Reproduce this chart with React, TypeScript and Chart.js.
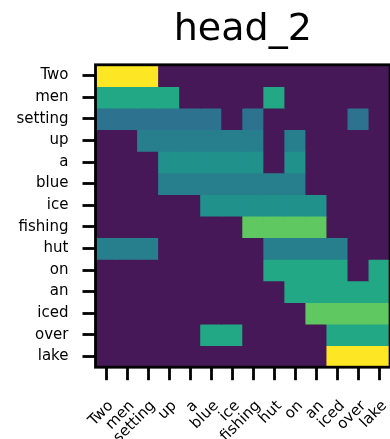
import { useEffect, useRef } from "react";
import { Chart, registerables } from "chart.js";

Chart.register(...registerables);
Chart.defaults.font.family = "'DejaVu Sans'";

// tokens (rows = queries, columns = keys)
const tokens = ["Two", "men", "setting", "up", "a", "blue", "ice", "fishing", "hut", "on", "an", "iced", "over", "lake"];

// attention weights, one row per query token
const attention: number[][] = [
  [0.333, 0.333, 0.333, 0, 0, 0, 0, 0, 0, 0, 0, 0, 0, 0],
  [0.2, 0.2, 0.2, 0.2, 0, 0, 0, 0, 0.2, 0, 0, 0, 0, 0],
  [0.125, 0.125, 0.125, 0.125, 0.125, 0.125, 0, 0.125, 0, 0, 0, 0, 0.125, 0],
  [0, 0, 0.143, 0.143, 0.143, 0.143, 0.143, 0.143, 0, 0.143, 0, 0, 0, 0],
  [0, 0, 0, 0.167, 0.167, 0.167, 0.167, 0.167, 0, 0.167, 0, 0, 0, 0],
  [0, 0, 0, 0.143, 0.143, 0.143, 0.143, 0.143, 0.143, 0.143, 0, 0, 0, 0],
  [0, 0, 0, 0, 0, 0.167, 0.167, 0.167, 0.167, 0.167, 0.167, 0, 0, 0],
  [0, 0, 0, 0, 0, 0, 0, 0.25, 0.25, 0.25, 0.25, 0, 0, 0],
  [0.143, 0.143, 0.143, 0, 0, 0, 0, 0, 0.143, 0.143, 0.143, 0.143, 0, 0],
  [0, 0, 0, 0, 0, 0, 0, 0, 0.2, 0.2, 0.2, 0.2, 0, 0.2],
  [0, 0, 0, 0, 0, 0, 0, 0, 0, 0.2, 0.2, 0.2, 0.2, 0.2],
  [0, 0, 0, 0, 0, 0, 0, 0, 0, 0, 0.25, 0.25, 0.25, 0.25],
  [0, 0, 0, 0, 0, 0.2, 0.2, 0, 0, 0, 0, 0.2, 0.2, 0.2],
  [0, 0, 0, 0, 0, 0, 0, 0, 0, 0, 0, 0.333, 0.333, 0.333],
];

const titleText = "head_2";

// viridis-like colormap stops (low end matched to the reference's tone)
const viridisStops = [
  "#471858", "#482475", "#414487", "#355f8d", "#2a788e", "#21918c",
  "#22a884", "#44bf70", "#7ad151", "#bddf26", "#fde725",
];

function hexToRgb(h: string) {
  const n = parseInt(h.slice(1), 16);
  return [(n >> 16) & 255, (n >> 8) & 255, n & 255];
}

function viridis(t: number) {
  const c = Math.max(0, Math.min(1, t));
  const p = c * (viridisStops.length - 1);
  const i = Math.min(viridisStops.length - 2, Math.floor(p));
  const f = p - i;
  const a = hexToRgb(viridisStops[i]);
  const b = hexToRgb(viridisStops[i + 1]);
  const m = a.map((v, k) => Math.round(v + (b[k] - v) * f));
  return `rgb(${m[0]},${m[1]},${m[2]})`;
}

const framePlugin = {
  id: "frame",
  afterDatasetsDraw(chart: any) {
    const { ctx, chartArea } = chart;
    const { left, top, right, bottom } = chartArea;
    ctx.save();
    ctx.strokeStyle = "#000";
    ctx.lineWidth = 2.8;
    ctx.strokeRect(left, top, right - left, bottom - top);
    ctx.restore();
  },
};

export default function App() {
  const ref = useRef<HTMLCanvasElement | null>(null);

  useEffect(() => {
    if (!ref.current) return;
    const flat = attention.flat();
    const vmax = Math.max(...flat);
    const vmin = Math.min(...flat);

    const datasets = attention.map((row, i) => ({
      label: tokens[i],
      data: row.map(() => [i, i + 1]),
      backgroundColor: row.map((v) => viridis((v - vmin) / (vmax - vmin))),
      borderWidth: 0,
      barPercentage: 1,
      categoryPercentage: 1,
      grouped: false,
      inflateAmount: 0.5,
    }));

    const chart = new Chart(ref.current, {
      type: "bar",
      data: { labels: tokens, datasets: datasets as any },
      options: {
        animation: false,
        responsive: false,
        maintainAspectRatio: false,
        devicePixelRatio: 1,
        layout: { padding: { left: 0, right: 12, top: 0, bottom: 0 } },
        plugins: {
          legend: { display: false },
          tooltip: { enabled: false },
          title: {
            display: true,
            text: titleText,
            fullSize: false,
            color: "#000",
            font: { size: 38, weight: "normal", lineHeight: 1.1 },
            padding: { top: 9, bottom: 14 },
          },
        },
        scales: {
          x: {
            type: "category",
            offset: true,
            grid: {
              display: true,
              offset: false,
              drawOnChartArea: false,
              drawTicks: true,
              tickLength: 13,
              tickWidth: 2.8,
              tickColor: "#000",
            },
            border: { display: false },
            ticks: {
              autoSkip: false,
              minRotation: 45,
              maxRotation: 45,
              padding: 17,
              labelOffset: 5,
              color: "#000",
              font: { size: 15 },
            },
            afterFit: (s: any) => {
              s.height = 102.8;
            },
          },
          y: {
            type: "linear",
            min: 0,
            max: tokens.length,
            reverse: true,
            grid: {
              display: true,
              drawOnChartArea: false,
              drawTicks: true,
              tickLength: 13,
              tickWidth: 2.8,
              tickColor: "#000",
            },
            border: { display: false },
            ticks: {
              autoSkip: false,
              padding: 14,
              color: "#000",
              font: { size: 15 },
              callback: (_v: any, i: number) => tokens[i],
            },
            afterBuildTicks: (s: any) => {
              s.ticks = tokens.map((_, i) => ({ value: i + 0.5 }));
            },
            afterFit: (s: any) => {
              s.width = 95.5;
            },
          },
        },
      },
      plugins: [framePlugin],
    });
    return () => chart.destroy();
  }, []);

  return (
    <div
      style={{
        position: "fixed",
        left: 0,
        top: 0,
        width: 390,
        height: 439,
        overflow: "hidden",
        background: "#fff",
      }}
    >
      <canvas ref={ref} width={410} height={470} style={{ display: "block", width: 410, height: 470 }} />
    </div>
  );
}
